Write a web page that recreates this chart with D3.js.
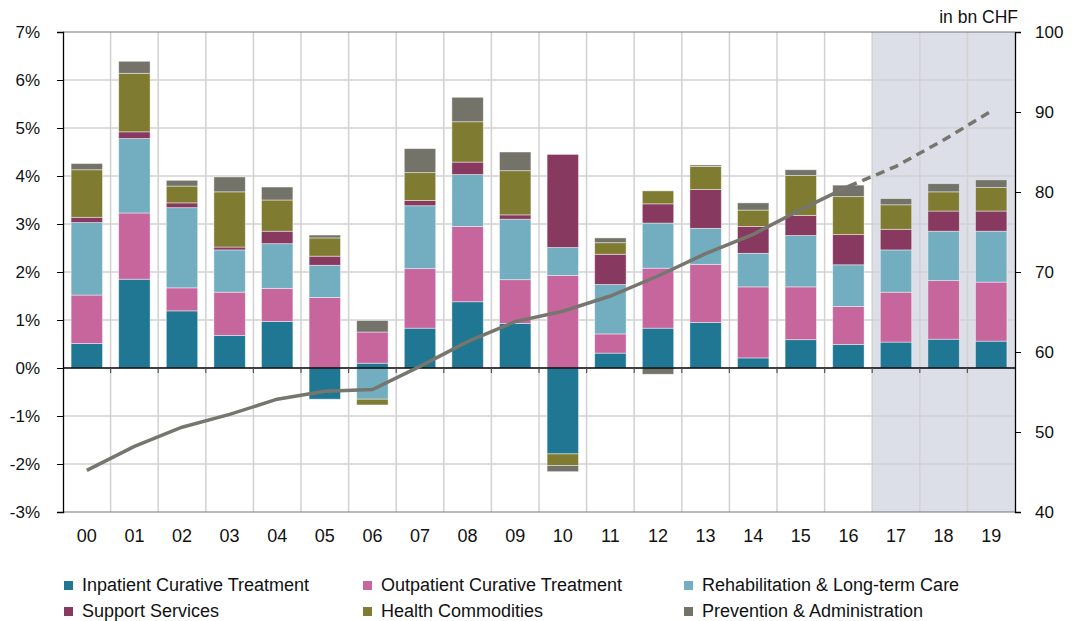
<!DOCTYPE html>
<html>
<head>
<meta charset="utf-8">
<script src="https://cdn.jsdelivr.net/npm/d3@7"></script>
<style>
  body { margin: 0; background: #fff; font-family: "Liberation Sans", Arial, sans-serif; }
  svg text { fill: #111; }
</style>
</head>
<body>
<div id="chart"></div>
<script>
const years = ["00","01","02","03","04","05","06","07","08","09","10","11","12","13","14","15","16","17","18","19"];
const forecastYears = ["17","18","19"];

const seriesNames = [
  "Inpatient Curative Treatment",
  "Outpatient Curative Treatment",
  "Rehabilitation & Long-term Care",
  "Support Services",
  "Health Commodities",
  "Prevention & Administration"
];
const seriesColors = ["#1f7793", "#c6669c", "#72adc0", "#87395f", "#7f7c32", "#74736a"];

// contributions to growth, percentage points
const inpatient   = [0.51, 1.85, 1.19, 0.68, 0.97, -0.65, 0.10, 0.83, 1.38, 0.93, -1.79, 0.31, 0.83, 0.95, 0.21, 0.59, 0.49, 0.54, 0.60, 0.56];
const outpatient  = [1.01, 1.38, 0.48, 0.90, 0.69, 1.47, 0.65, 1.24, 1.57, 0.91, 1.93, 0.40, 1.25, 1.21, 1.48, 1.10, 0.79, 1.04, 1.22, 1.23];
const rehab       = [1.51, 1.55, 1.67, 0.88, 0.93, 0.67, -0.65, 1.31, 1.08, 1.26, 0.58, 1.03, 0.94, 0.75, 0.70, 1.07, 0.87, 0.88, 1.03, 1.06];
const support     = [0.11, 0.14, 0.10, 0.06, 0.26, 0.19, 0.00, 0.11, 0.26, 0.09, 1.94, 0.63, 0.40, 0.81, 0.56, 0.42, 0.63, 0.43, 0.42, 0.42];
const commodities = [0.99, 1.22, 0.35, 1.15, 0.65, 0.38, -0.12, 0.58, 0.84, 0.92, -0.24, 0.24, 0.27, 0.48, 0.34, 0.83, 0.79, 0.51, 0.40, 0.49];
const prevention  = [0.13, 0.25, 0.12, 0.31, 0.27, 0.06, 0.24, 0.50, 0.51, 0.39, -0.13, 0.10, -0.13, 0.03, 0.15, 0.12, 0.24, 0.13, 0.17, 0.16];

// total expenditure, bn CHF (right axis)
const totalSpend = [45.2, 48.2, 50.6, 52.2, 54.1, 55.1, 55.3, 58.2, 61.3, 63.8, 65.1, 67.0, 69.5, 72.3, 74.7, 77.8, 80.7, 83.2, 86.5, 90.1];

const leftTicks = [-3, -2, -1, 0, 1, 2, 3, 4, 5, 6, 7];
const rightTicks = [40, 50, 60, 70, 80, 90, 100];

const width = 1075, height = 621;
const margin = { top: 32, right: 60, bottom: 109, left: 63 };

const svg = d3.select("#chart").append("svg")
  .attr("width", width).attr("height", height);

const x = d3.scaleBand().domain(years)
  .range([margin.left, width - margin.right]).paddingInner(0.34).paddingOuter(0.17);
const xGrid = d3.scaleBand().domain(years).range([margin.left, width - margin.right]);
const y = d3.scaleLinear().domain([-3, 7]).range([height - margin.bottom, margin.top]);
const y2 = d3.scaleLinear().domain([40, 100]).range([height - margin.bottom, margin.top]);

// forecast shading
svg.append("rect")
  .attr("x", xGrid(forecastYears[0]))
  .attr("y", margin.top)
  .attr("width", xGrid(forecastYears[forecastYears.length - 1]) + xGrid.bandwidth() - xGrid(forecastYears[0]))
  .attr("height", y(-3) - margin.top)
  .attr("fill", "#dcdfe8");

// grid
const grid = svg.append("g").attr("stroke", "#d2d2d2").attr("stroke-width", 1.5);
grid.selectAll(".h").data(leftTicks.filter(d => d !== 0 && d !== -3 && d !== 7)).join("line")
  .attr("x1", margin.left).attr("x2", width - margin.right)
  .attr("y1", d => y(d)).attr("y2", d => y(d));
grid.selectAll(".v").data(years.slice(1)).join("line")
  .attr("x1", d => xGrid(d)).attr("x2", d => xGrid(d))
  .attr("y1", margin.top).attr("y2", y(-3));

// top and bottom border
svg.append("line").attr("x1", margin.left).attr("x2", width - margin.right)
  .attr("y1", y(7)).attr("y2", y(7)).attr("stroke", "#777").attr("stroke-width", 1.2);
svg.append("line").attr("x1", margin.left).attr("x2", width - margin.right)
  .attr("y1", y(-3)).attr("y2", y(-3)).attr("stroke", "#777").attr("stroke-width", 1.2);

// stacked bars (positive and negative stacked separately)
const table = years.map((yr, i) => ({
  year: yr,
  s0: inpatient[i], s1: outpatient[i], s2: rehab[i],
  s3: support[i], s4: commodities[i], s5: prevention[i]
}));
const keys = ["s0", "s1", "s2", "s3", "s4", "s5"];
const stack = d3.stack().keys(keys).offset(d3.stackOffsetDiverging);
const layers = stack(table);

svg.append("g").selectAll("g").data(layers).join("g")
  .attr("fill", (d, i) => seriesColors[i])
  .selectAll("rect").data(d => d.filter(p => p[1] !== p[0])).join("rect")
  .attr("x", d => x(d.data.year))
  .attr("width", x.bandwidth())
  .attr("y", d => y(Math.max(d[0], d[1])))
  .attr("height", d => Math.abs(y(d[0]) - y(d[1])))
  .attr("stroke", "rgba(255,255,255,0.55)")
  .attr("stroke-width", 0.8);

// zero line with ticks
svg.append("line").attr("x1", margin.left).attr("x2", width - margin.right)
  .attr("y1", y(0)).attr("y2", y(0)).attr("stroke", "#000").attr("stroke-width", 1.3);
svg.append("g").selectAll("line").data(years.slice(1)).join("line")
  .attr("x1", d => xGrid(d)).attr("x2", d => xGrid(d))
  .attr("y1", y(0)).attr("y2", y(0) + 5)
  .attr("stroke", "#555").attr("stroke-width", 1.2);

// total spend line: actual solid, forecast dashed
const splitAt = years.indexOf("16");
const lineAt = offset => d3.line()
  .x((d, i) => x(years[i + offset]) + x.bandwidth() / 2)
  .y(d => y2(d));
svg.append("path")
  .datum(totalSpend.slice(0, splitAt + 1))
  .attr("d", lineAt(0))
  .attr("fill", "none").attr("stroke", "#77766e").attr("stroke-width", 3.5);
svg.append("path")
  .datum(totalSpend.slice(splitAt))
  .attr("d", lineAt(splitAt))
  .attr("fill", "none").attr("stroke", "#77766e").attr("stroke-width", 3.5)
  .attr("stroke-dasharray", "9,6");

// left axis
const yAxis = d3.axisLeft(y).tickValues(leftTicks).tickSize(6).tickFormat(d => d + "%");
const gl = svg.append("g").attr("transform", `translate(${margin.left},0)`).call(yAxis);
gl.select(".domain").attr("stroke", "#000").attr("stroke-width", 1.3);
gl.selectAll(".tick line").attr("stroke", "#000");
gl.selectAll(".tick text").attr("x", -23).attr("font-size", 17)
  .attr("font-family", "Liberation Sans, Arial, sans-serif");

// right axis
const yAxis2 = d3.axisRight(y2).tickValues(rightTicks).tickSize(6);
const gr = svg.append("g").attr("transform", `translate(${width - margin.right},0)`).call(yAxis2);
gr.select(".domain").attr("stroke", "#000").attr("stroke-width", 1.3);
gr.selectAll(".tick line").attr("stroke", "#000");
gr.selectAll(".tick text").attr("x", 20).attr("font-size", 17)
  .attr("font-family", "Liberation Sans, Arial, sans-serif");

svg.append("text").attr("x", 1018).attr("y", 23)
  .attr("text-anchor", "end").attr("font-size", 17.5).text("in bn CHF");

// x labels
svg.append("g").selectAll("text").data(years).join("text")
  .attr("x", d => x(d) + x.bandwidth() / 2)
  .attr("y", y(-3) + 30)
  .attr("text-anchor", "middle").attr("font-size", 18)
  .text(d => d);

// legend
const legendCols = [64, 363, 684];
const legendRows = [591, 617];
const legend = svg.append("g").selectAll("g").data(seriesNames).join("g")
  .attr("transform", (d, i) => `translate(${legendCols[i % 3]},${legendRows[Math.floor(i / 3)]})`);
legend.append("rect").attr("x", 0).attr("y", -10).attr("width", 9).attr("height", 9)
  .attr("fill", (d, i) => seriesColors[i]);
legend.append("text").attr("x", 18).attr("y", 0).attr("font-size", 18).text(d => d);
</script>
</body>
</html>
